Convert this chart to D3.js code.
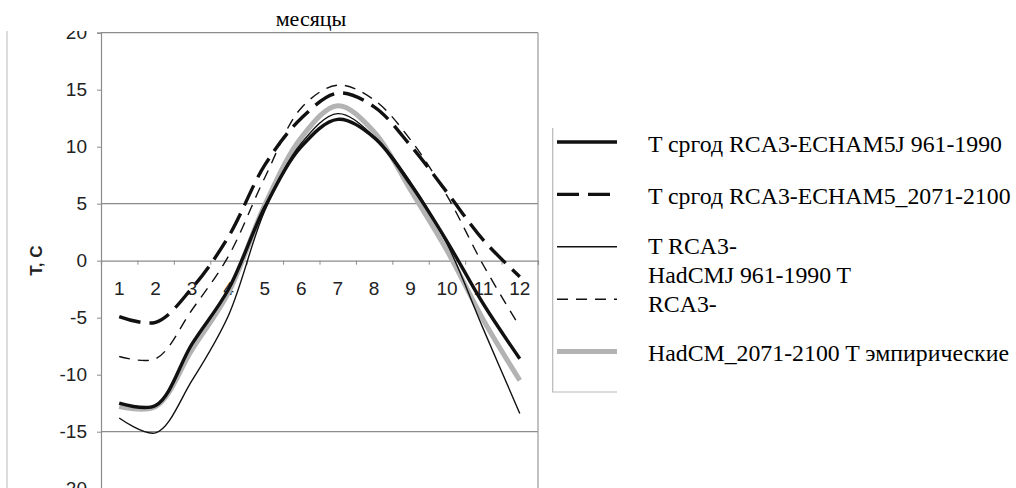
<!DOCTYPE html>
<html>
<head>
<meta charset="utf-8">
<script src="https://cdn.jsdelivr.net/npm/d3@7"></script>
<style>
  html, body { margin: 0; padding: 0; background: #fff; }
  svg { display: block; }
</style>
</head>
<body>
<div id="chart"></div>
<script>
// months on the x axis
const months = [1, 2, 3, 4, 5, 6, 7, 8, 9, 10, 11, 12];
const yTicks = [-20, -15, -10, -5, 0, 5, 10, 15, 20];
const gridValues = [20, 5, -15, -20];

// monthly temperatures
const echamBase   = [-12.5, -12.7, -7.3, -2.5, 4.7, 10.0, 12.4, 10.8, 6.7, 1.7, -3.8, -8.6];
const echamFuture = [-4.9, -5.4, -2.4, 2.1, 8.4, 12.5, 14.7, 13.5, 10.1, 6.0, 1.8, -1.4];
const hadcmBase   = [-13.8, -15.1, -10.5, -4.8, 4.4, 10.3, 12.9, 10.9, 6.9, 1.5, -6.0, -13.4];
const hadcmFuture = [-8.4, -8.6, -4.3, 0.4, 7.3, 13.4, 15.4, 14.1, 10.6, 5.7, -0.4, -5.8];
const empirical   = [-12.8, -12.8, -7.8, -2.8, 4.9, 10.8, 13.6, 11.3, 6.2, 0.9, -5.2, -10.5];

// legend text, as it is laid out (wrapped) in the picture
const legendGroups = [
    ["T сргод RCA3-ECHAM5J 961-1990"],
    ["T сргод RCA3-ECHAM5_2071-2100"],
    ["T RCA3-", "HadCMJ 961-1990 T", "RCA3-"],
    ["HadCM_2071-2100 T эмпирические"]
];
const xTitle = "месяцы";
const yTitle = "T, C";

let width = 1016, height = 488;
let plot = {left: 101, right: 538, top: 32.7, bottom: 488.7};
let serifFont = "'Liberation Serif', 'Times New Roman', 'DejaVu Serif', serif";
let sansFont = "'Liberation Sans', Arial, 'DejaVu Sans', sans-serif";

// line styles per series
let series = [
    {values: empirical,   stroke: "#b3b3b3", width: 5,   dash: null},
    {values: hadcmBase,   stroke: "#111",    width: 1.4, dash: null},
    {values: hadcmFuture, stroke: "#111",    width: 1.4, dash: "11,8"},
    {values: echamBase,   stroke: "#111",    width: 3.4, dash: null},
    {values: echamFuture, stroke: "#111",    width: 3.4, dash: "22,9"}
];
// legend order in the picture
let legendOrder = [3, 4, 1, 2, 0];

let svg = d3.select("#chart")
    .append("svg")
    .attr("width", width)
    .attr("height", height);

let x = d3.scaleLinear()
    .domain([0.5, 12.5])
    .range([plot.left, plot.right]);

let y = d3.scaleLinear()
    .domain([-20, 20])
    .range([plot.bottom, plot.top]);

// outer chart border (left side only visible)
svg.append("line")
    .attr("x1", 7).attr("x2", 7)
    .attr("y1", 29).attr("y2", height)
    .attr("stroke", "#c4c4c4")
    .attr("stroke-width", 1.2);

// horizontal grid lines
svg.append("g")
    .selectAll("line")
    .data(gridValues)
    .join("line")
    .attr("x1", plot.left).attr("x2", plot.right)
    .attr("y1", d => y(d)).attr("y2", d => y(d))
    .attr("stroke", "#8c8c8c")
    .attr("stroke-width", 1.2);

// right frame
svg.append("line")
    .attr("x1", plot.right).attr("x2", plot.right)
    .attr("y1", plot.top).attr("y2", plot.bottom)
    .attr("stroke", "#999")
    .attr("stroke-width", 1.2);

// y axis
let yAxis = svg.append("g")
    .attr("transform", `translate(${plot.left},0)`)
    .call(d3.axisLeft(y)
        .tickValues(yTicks)
        .tickSize(4)
        .tickPadding(10)
        .tickFormat(d => String(d)));
yAxis.select(".domain").attr("stroke", "#8c8c8c").attr("stroke-width", 1.2);
yAxis.selectAll(".tick line").attr("stroke", "#8c8c8c");
yAxis.selectAll("text")
    .attr("fill", "#222")
    .style("font-family", sansFont)
    .style("font-size", "19px");

// x axis on the zero line, ticks between months
let xAxis = svg.append("g")
    .attr("transform", `translate(0,${y(0)})`)
    .call(d3.axisBottom(x)
        .tickValues(d3.range(0.5, 13, 1))
        .tickSize(4)
        .tickFormat(""));
xAxis.select(".domain").attr("stroke", "#8c8c8c").attr("stroke-width", 1.2);
xAxis.selectAll(".tick line").attr("stroke", "#8c8c8c");

svg.append("g")
    .selectAll("text")
    .data(months)
    .join("text")
    .attr("x", d => x(d))
    .attr("y", y(0) + 34)
    .attr("text-anchor", "middle")
    .attr("fill", "#222")
    .style("font-family", sansFont)
    .style("font-size", "19px")
    .text(d => d);

// curves
let line = d3.line()
    .x((d, i) => x(months[i]))
    .y(d => y(d))
    .curve(d3.curveCatmullRom.alpha(0.5));

svg.append("g")
    .selectAll("path")
    .data(series)
    .join("path")
    .attr("d", d => line(d.values))
    .attr("fill", "none")
    .attr("stroke", d => d.stroke)
    .attr("stroke-width", d => d.width)
    .attr("stroke-dasharray", d => d.dash)
    .attr("stroke-linejoin", "round");

// y axis title
svg.append("text")
    .attr("transform", `translate(42,${y(0)}) rotate(-90)`)
    .attr("text-anchor", "middle")
    .attr("fill", "#222")
    .style("font-family", sansFont)
    .style("font-size", "17px")
    .style("font-weight", "bold")
    .text(yTitle);

// white band at the top cutting the "20" label, then the x title
svg.append("rect")
    .attr("x", 0).attr("y", 0)
    .attr("width", 620).attr("height", 31)
    .attr("fill", "#fff");

svg.append("text")
    .attr("x", 311)
    .attr("y", 26)
    .attr("text-anchor", "middle")
    .attr("fill", "#000")
    .style("font-family", serifFont)
    .style("font-size", "22px")
    .text(xTitle);

// legend box (left and bottom sides)
let legend = {left: 552.7, top: 128, bottom: 392, right: 617, sampleX: 557, firstY: 142, step: 52.4};

svg.append("path")
    .attr("d", `M${legend.left},${legend.top}V${legend.bottom}H${legend.right}`)
    .attr("fill", "none")
    .attr("stroke", "#b8b8b8")
    .attr("stroke-width", 1.2);

svg.append("g")
    .selectAll("line")
    .data(legendOrder)
    .join("line")
    .attr("x1", legend.sampleX)
    .attr("x2", legend.right)
    .attr("y1", (d, i) => legend.firstY + i * legend.step)
    .attr("y2", (d, i) => legend.firstY + i * legend.step)
    .attr("stroke", d => series[d].stroke)
    .attr("stroke-width", d => series[d].width)
    .attr("stroke-dasharray", d => series[d].dash);

// legend labels: groups anchored to rows 1, 2, between 3-4, and 5
let rowY = i => legend.firstY + i * legend.step;
let groupAnchor = [rowY(0), rowY(1), (rowY(2) + rowY(3)) / 2, rowY(4)];
let lineHeight = 29;

let legendText = svg.append("g")
    .style("font-family", serifFont)
    .style("font-size", "23.8px")
    .attr("fill", "#000");

legendGroups.forEach((lines, g) => {
    lines.forEach((t, k) => {
        legendText.append("text")
            .attr("x", 648)
            .attr("y", groupAnchor[g] + 9.5 + (k - (lines.length - 1) / 2) * lineHeight)
            .text(t);
    });
});
</script>
</body>
</html>
